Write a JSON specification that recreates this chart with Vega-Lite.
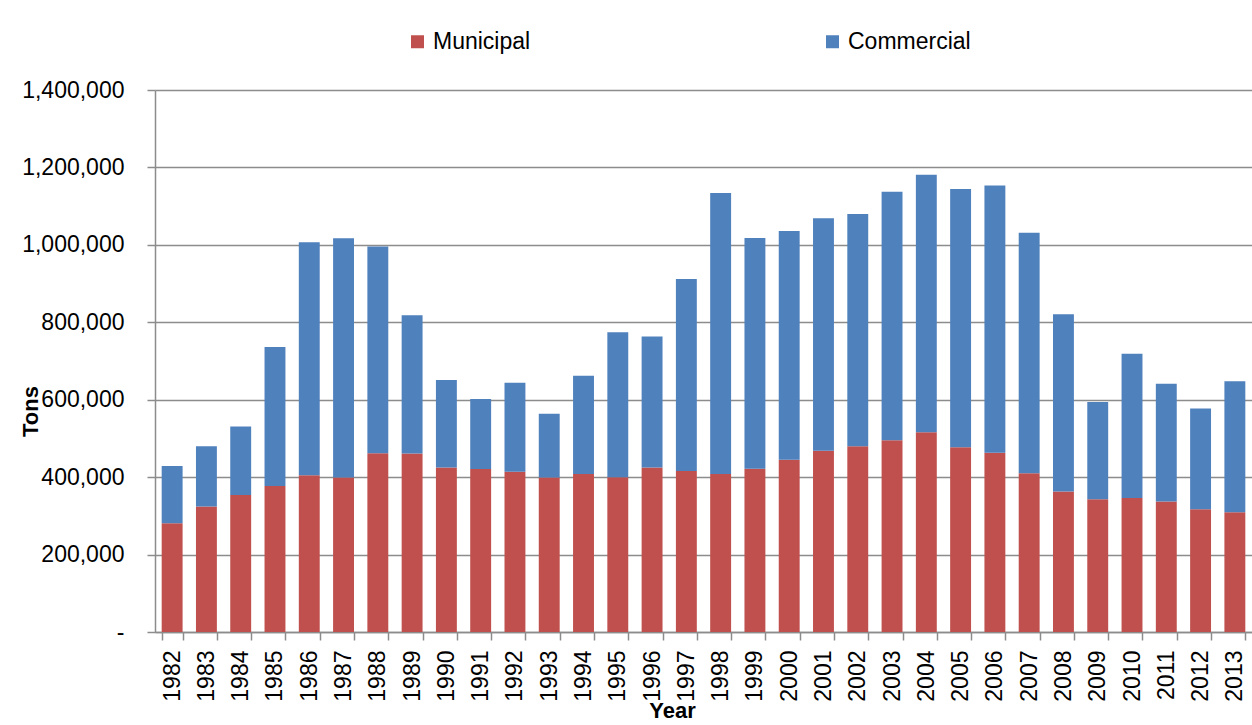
{
  "$schema": "https://vega.github.io/schema/vega-lite/v6.json",
  "autosize": {"type": "none"},
  "padding": {"left": 155, "top": 90, "right": 0, "bottom": 93},
  "width": 1097,
  "height": 542,
  "background": "white",
  "config": {
    "view": {"stroke": null},
    "font": "Liberation Sans"
  },
  "data": {
    "values": [
      {"year": "1982", "type": "Municipal", "tons": 281000}, {"year": "1982", "type": "Commercial", "tons": 148000},
      {"year": "1983", "type": "Municipal", "tons": 324000}, {"year": "1983", "type": "Commercial", "tons": 156000},
      {"year": "1984", "type": "Municipal", "tons": 354000}, {"year": "1984", "type": "Commercial", "tons": 177000},
      {"year": "1985", "type": "Municipal", "tons": 377000}, {"year": "1985", "type": "Commercial", "tons": 359000},
      {"year": "1986", "type": "Municipal", "tons": 405000}, {"year": "1986", "type": "Commercial", "tons": 602000},
      {"year": "1987", "type": "Municipal", "tons": 399000}, {"year": "1987", "type": "Commercial", "tons": 618000},
      {"year": "1988", "type": "Municipal", "tons": 462000}, {"year": "1988", "type": "Commercial", "tons": 534000},
      {"year": "1989", "type": "Municipal", "tons": 461000}, {"year": "1989", "type": "Commercial", "tons": 357000},
      {"year": "1990", "type": "Municipal", "tons": 425000}, {"year": "1990", "type": "Commercial", "tons": 226000},
      {"year": "1991", "type": "Municipal", "tons": 421000}, {"year": "1991", "type": "Commercial", "tons": 181000},
      {"year": "1992", "type": "Municipal", "tons": 414000}, {"year": "1992", "type": "Commercial", "tons": 230000},
      {"year": "1993", "type": "Municipal", "tons": 399000}, {"year": "1993", "type": "Commercial", "tons": 165000},
      {"year": "1994", "type": "Municipal", "tons": 408000}, {"year": "1994", "type": "Commercial", "tons": 254000},
      {"year": "1995", "type": "Municipal", "tons": 400000}, {"year": "1995", "type": "Commercial", "tons": 374000},
      {"year": "1996", "type": "Municipal", "tons": 425000}, {"year": "1996", "type": "Commercial", "tons": 338000},
      {"year": "1997", "type": "Municipal", "tons": 416000}, {"year": "1997", "type": "Commercial", "tons": 496000},
      {"year": "1998", "type": "Municipal", "tons": 408000}, {"year": "1998", "type": "Commercial", "tons": 726000},
      {"year": "1999", "type": "Municipal", "tons": 422000}, {"year": "1999", "type": "Commercial", "tons": 596000},
      {"year": "2000", "type": "Municipal", "tons": 445000}, {"year": "2000", "type": "Commercial", "tons": 591000},
      {"year": "2001", "type": "Municipal", "tons": 468000}, {"year": "2001", "type": "Commercial", "tons": 601000},
      {"year": "2002", "type": "Municipal", "tons": 480000}, {"year": "2002", "type": "Commercial", "tons": 600000},
      {"year": "2003", "type": "Municipal", "tons": 495000}, {"year": "2003", "type": "Commercial", "tons": 642000},
      {"year": "2004", "type": "Municipal", "tons": 516000}, {"year": "2004", "type": "Commercial", "tons": 665000},
      {"year": "2005", "type": "Municipal", "tons": 477000}, {"year": "2005", "type": "Commercial", "tons": 667000},
      {"year": "2006", "type": "Municipal", "tons": 463000}, {"year": "2006", "type": "Commercial", "tons": 690000},
      {"year": "2007", "type": "Municipal", "tons": 410000}, {"year": "2007", "type": "Commercial", "tons": 621000},
      {"year": "2008", "type": "Municipal", "tons": 363000}, {"year": "2008", "type": "Commercial", "tons": 458000},
      {"year": "2009", "type": "Municipal", "tons": 343000}, {"year": "2009", "type": "Commercial", "tons": 251000},
      {"year": "2010", "type": "Municipal", "tons": 346000}, {"year": "2010", "type": "Commercial", "tons": 373000},
      {"year": "2011", "type": "Municipal", "tons": 337000}, {"year": "2011", "type": "Commercial", "tons": 304000},
      {"year": "2012", "type": "Municipal", "tons": 317000}, {"year": "2012", "type": "Commercial", "tons": 260000},
      {"year": "2013", "type": "Municipal", "tons": 309000}, {"year": "2013", "type": "Commercial", "tons": 339000}
    ]
  },
  "transform": [
    {"calculate": "datum.type === 'Municipal' ? 0 : 1", "as": "stackOrder"}
  ],
  "mark": {"type": "bar"},
  "encoding": {
    "x": {
      "field": "year",
      "type": "ordinal",
      "scale": {"paddingInner": 0.39, "paddingOuter": 0.195},
      "axis": {
        "title": "Year",
        "titleFontSize": 22,
        "titleFontWeight": "bold",
        "titleColor": "black",
        "titleX": 517,
        "titleY": 78,
        "titleBaseline": "middle",
        "labelAngle": -90,
        "labelAlign": "right",
        "labelBaseline": "middle",
        "labelFontSize": 23,
        "labelColor": "black",
        "labelPadding": 10,
        "labelOverlap": false,
        "tickBand": "extent",
        "tickSize": 8,
        "tickColor": "#8c8c8c",
        "tickWidth": 1.5,
        "domainColor": "#8c8c8c",
        "domainWidth": 1.5,
        "grid": false
      }
    },
    "y": {
      "field": "tons",
      "type": "quantitative",
      "stack": "zero",
      "scale": {"domain": [0, 1400000], "nice": false},
      "axis": {
        "title": "Tons",
        "titleFontSize": 22,
        "titleFontWeight": "bold",
        "titleColor": "black",
        "titleAngle": -90,
        "titleX": -125,
        "titleY": 321,
        "titleAlign": "center",
        "titleBaseline": "middle",
        "values": [0, 200000, 400000, 600000, 800000, 1000000, 1200000, 1400000],
        "labelExpr": "datum.value === 0 ? '-' : format(datum.value, ',')",
        "labelFontSize": 23,
        "labelColor": "black",
        "labelPadding": 23,
        "labelOverlap": false,
        "tickSize": 8,
        "tickColor": "#8c8c8c",
        "tickWidth": 1.5,
        "domainColor": "#8c8c8c",
        "domainWidth": 1.5,
        "grid": true,
        "gridColor": "#8c8c8c",
        "gridWidth": 1.5
      }
    },
    "color": {
      "field": "type",
      "type": "nominal",
      "scale": {"domain": ["Municipal", "Commercial"], "range": ["#C0504D", "#4F81BD"]},
      "legend": {
        "title": null,
        "orient": "none",
        "direction": "horizontal",
        "legendX": 251,
        "legendY": -60,
        "symbolType": "square",
        "symbolSize": 169,
        "symbolStrokeWidth": 0,
        "labelFontSize": 23,
        "labelColor": "black",
        "labelOffset": 4,
        "columnPadding": 290
      }
    },
    "order": {"field": "stackOrder", "type": "quantitative", "sort": "ascending"}
  }
}
